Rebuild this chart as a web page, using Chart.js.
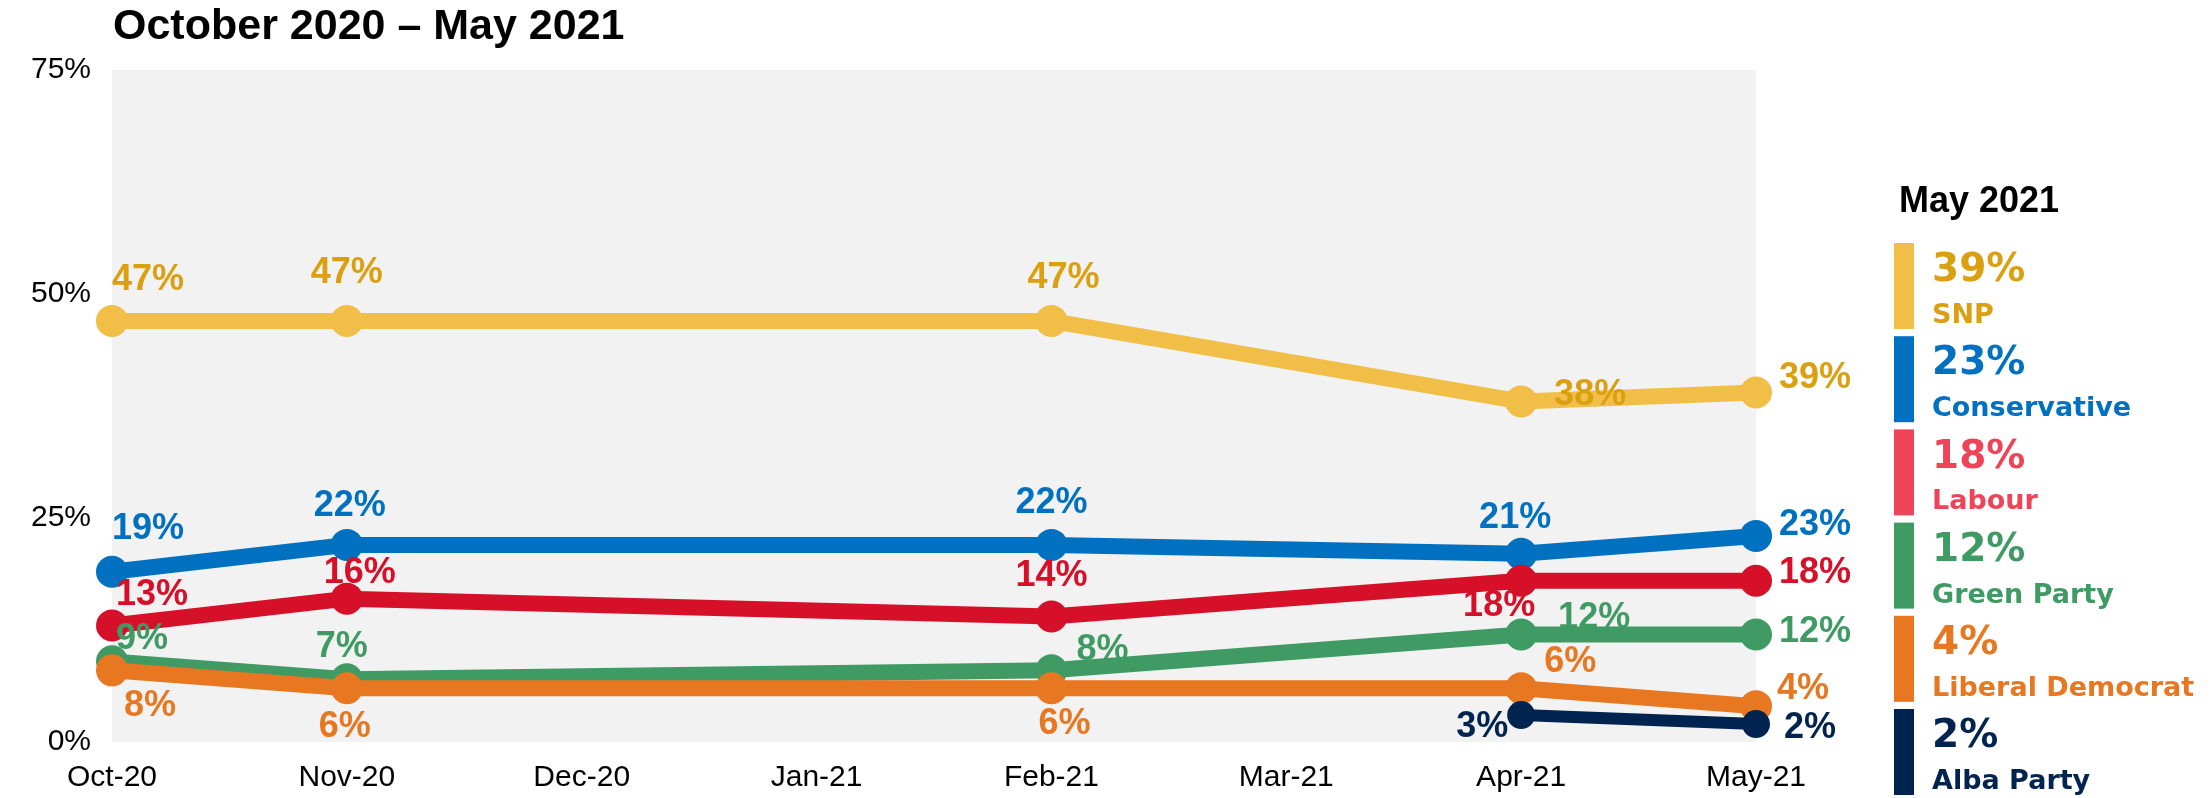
<!DOCTYPE html>
<html>
<head>
<meta charset="utf-8">
<title>October 2020 – May 2021</title>
<script src="https://cdn.jsdelivr.net/npm/chart.js@4.4.1/dist/chart.umd.min.js"></script>
<style>
  html, body { margin: 0; padding: 0; background: #fff; }
  canvas { display: block; }
</style>
</head>
<body>
<canvas id="poll" width="2210" height="798"></canvas>
<script>
const months = ['Oct-20', 'Nov-20', 'Dec-20', 'Jan-21', 'Feb-21', 'Mar-21', 'Apr-21', 'May-21'];

const snp = [47, 47, null, null, 47, null, 38, 39];
const conservative = [19, 22, null, null, 22, null, 21, 23];
const labour = [13, 16, null, null, 14, null, 18, 18];
const green = [9, 7, null, null, 8, null, 12, 12];
const libDem = [8, 6, null, null, 6, null, 6, 4];
const alba = [null, null, null, null, null, null, 3, 2];

const partyNames = ['SNP', 'Conservative', 'Labour', 'Green Party', 'Liberal Democrat', 'Alba Party'];
const series = [snp, conservative, labour, green, libDem, alba];

const titleText = 'October 2020 – May 2021';
const legendTitle = 'May 2021';

const lineColours = ['#F1BE48', '#0070C0', '#D7102A', '#3F9A63', '#E87722', '#00234F'];
const labelColours = ['#DBA012', '#0070C0', '#D7102A', '#3F9A63', '#E87722', '#00234F'];
const legendBarColours = ['#F1BE48', '#0070C0', '#EF4457', '#3F9A63', '#E87722', '#00234F'];
const legendTextColours = ['#DBA012', '#0070C0', '#EF4457', '#3F9A63', '#E87722', '#00234F'];

// where each value label sits relative to its point (dx, dy in px)
const labelOffsets = [
  [[36, -41], [0, -48], null, null, [12, -43], null, [69, -6], [59, -14]],
  [[36, -43], [3, -39], null, null, [0, -42], null, [-6, -36], [59, -11]],
  [[40, -30], [13, -26], null, null, [0, -40], null, [-22, 25], [59, -8]],
  [[30, -22], [-5, -32], null, null, [51, -20], null, [73, -16], [59, -2]],
  [[38, 36], [-2, 39], null, null, [13, 36], null, [49, -26], [47, -17]],
  [null, null, null, null, null, null, [-39, 12], [54, 4]]
];

const font = '"Liberation Sans", Arial, sans-serif';

const plotBackground = {
  id: 'plotBackground',
  beforeDraw(chart) {
    const { ctx, chartArea } = chart;
    ctx.save();
    ctx.fillStyle = '#F2F2F2';
    ctx.fillRect(chartArea.left, chartArea.top, chartArea.width, chartArea.height);
    ctx.restore();
  }
};

const titleLine = {
  id: 'titleLine',
  afterDraw(chart) {
    const ctx = chart.ctx;
    ctx.save();
    ctx.fillStyle = '#000';
    ctx.font = 'bold 43px ' + font;
    ctx.textBaseline = 'middle';
    ctx.fillText(titleText, 113, 27);
    ctx.restore();
  }
};

const valueLabels = {
  id: 'valueLabels',
  afterDatasetsDraw(chart) {
    const ctx = chart.ctx;
    ctx.save();
    ctx.font = 'bold 36px ' + font;
    ctx.textAlign = 'center';
    ctx.textBaseline = 'middle';
    chart.data.datasets.forEach((dataset, i) => {
      const meta = chart.getDatasetMeta(i);
      dataset.data.forEach((value, j) => {
        if (value === null) return;
        const point = meta.data[j];
        const offset = labelOffsets[i][j] || [0, -40];
        ctx.fillStyle = labelColours[i];
        ctx.fillText(value + '%', point.x + offset[0], point.y + offset[1]);
      });
    });
    ctx.restore();
  }
};

const sideLegend = {
  id: 'sideLegend',
  afterDraw(chart) {
    const ctx = chart.ctx;
    ctx.save();
    ctx.textBaseline = 'middle';
    ctx.fillStyle = '#000';
    ctx.font = 'bold 36px ' + font;
    ctx.fillText(legendTitle, 1899, 202);

    partyNames.forEach((name, i) => {
      const top = 243 + i * 93.2;
      const last = series[i][series[i].length - 1];
      ctx.fillStyle = legendBarColours[i];
      ctx.fillRect(1894, top, 20, 86);
      ctx.fillStyle = legendTextColours[i];
      ctx.font = 'bold 39px "DejaVu Sans", sans-serif';
      ctx.fillText(last + '%', 1932, top + 28);
      ctx.font = 'bold 27px "DejaVu Sans", sans-serif';
      ctx.fillText(name, 1932, top + 73);
    });
    ctx.restore();
  }
};

const datasets = partyNames.map((name, i) => ({
  label: name,
  data: series[i],
  borderColor: lineColours[i],
  backgroundColor: lineColours[i],
  borderWidth: i === 5 ? 12 : 16,
  pointRadius: i === 5 ? 14 : 16,
  pointBorderWidth: 0,
  pointHoverRadius: 16,
  spanGaps: true,
  tension: 0,
  order: partyNames.length - i
}));

new Chart(document.getElementById('poll'), {
  type: 'line',
  data: {
    labels: months,
    datasets: datasets
  },
  options: {
    responsive: false,
    animation: false,
    devicePixelRatio: 1,
    layout: {
      padding: { top: 70, right: 454, bottom: 0, left: 0 }
    },
    plugins: {
      legend: { display: false },
      title: { display: false },
      tooltip: { enabled: false }
    },
    scales: {
      x: {
        grid: { display: false, drawTicks: false },
        border: { display: false },
        afterFit: (scale) => { scale.height = 56; },
        ticks: {
          color: '#000',
          font: { family: font, size: 30 },
          padding: 18,
          maxRotation: 0,
          autoSkip: false
        }
      },
      y: {
        min: 0,
        max: 75,
        grid: { display: false, drawTicks: false },
        border: { display: false },
        afterFit: (scale) => { scale.width = 112; },
        ticks: {
          stepSize: 25,
          color: '#000',
          font: { family: font, size: 30 },
          padding: 21,
          callback: (value) => value + '%'
        }
      }
    }
  },
  plugins: [plotBackground, valueLabels, sideLegend, titleLine]
});
</script>
</body>
</html>
